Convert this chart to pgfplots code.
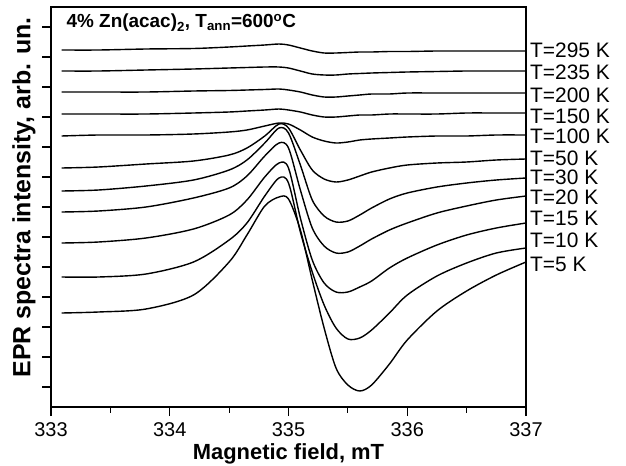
\documentclass[border=0pt]{standalone}
\usepackage{pgfplots}
\pgfplotsset{compat=1.18}
\usepackage{pgfplotstable}
\usepackage{fontspec}
\setmainfont{Liberation Sans}

\pgfplotstableread{
x t5 t10 t15 t20 t30 t50 t100 t150 t200 t235 t295
333.09 94 130 164 195 216 239 271 293 315 336 357
333.40 95 130 165 196 217 240 272 293 315 336 357
333.80 98 133 169 200 221 243 272 293 315 337 358
334.20 112 145 178 209 227 246 273 294 316 338 358.5
334.50 145 167 192 219 237 252 275 295 316.5 339 360
334.65 172 184 207 231 247 259 277 296 317 339.5 361
334.80 201 211 230 251 264 271 281 297 317.5 340 362
334.92 210 229 244 264 279 283 284 298 318 340 363
335.00 208 224 239 259 274 279 283 297 317 339 362
335.10 177 175 189 217 242 257 277 295 315 336 359
335.20 127 135 147 179 207 237 270 292 312 333 356
335.30 79 102 124 161 191 228 266 290 310 332 354
335.40 39 79 115 154 185 225 264 290 310 332 354
335.50 22 68 115 155 186 227 265 291 311 333 354.5
335.60 16 69 120 161 192 231 267 292 312 333.5 355
335.70 22 77 126 168 199 235 268 292 313 334 355
335.85 43 94 139 177 208 239 269 293 313 334.5 355.5
336.00 67 112 149 184 214 242 270 293 314 335 355.5
336.25 96 131 162 194 220 244 271 293 314 335.5 356
336.50 116 144 172 201 224 245 271 294 314 336 356
336.75 132 154 179 207 227 247 272 294 314 336 356
337.00 145 159 184 211 229 248 272 294 314 336 356
}\epr

\begin{document}
\begin{tikzpicture}[curve/.style={black, solid, line width=1.4bp, smooth, mark=none}]
\begin{axis}[
  name=ax,
  scale only axis, width=475bp, height=400bp,
  xmin=333, xmax=337, ymin=0, ymax=400,
  xtick={333,334,335,336,337},
  minor xtick={333.5,334.5,335.5,336.5},
  ytick={20,50,...,380},
  yticklabels={},
  tick pos=left,
  tick align=outside,
  major tick length=9bp, minor tick length=5.5bp,
  axis line style={line width=1.3bp},
  every tick/.style={black, line width=1.2bp},
  tick label style={font=\fontsize{20}{24}\selectfont},
  xticklabel style={yshift=-3.5bp},
  /pgf/number format/assume math mode=true,
  /pgf/number format/1000 sep={},
  xlabel={Magnetic field, mT},
  ylabel={EPR spectra intensity, arb. un.},
  every axis x label/.style={at={(axis description cs:0.5,-0.116)}, anchor=center, font=\bfseries\fontsize{22}{26}\selectfont},
  every axis y label/.style={at={(axis description cs:-0.057,0.524)}, rotate=90, anchor=center, font=\bfseries\fontsize{25}{29}\selectfont},
  clip=false,
]
\addplot[curve] table[y=t5]{\epr};
\addplot[curve] table[y=t10]{\epr};
\addplot[curve] table[y=t15]{\epr};
\addplot[curve] table[y=t20]{\epr};
\addplot[curve] table[y=t30]{\epr};
\addplot[curve] table[y=t50]{\epr};
\addplot[curve] table[y=t100]{\epr};
\addplot[curve] table[y=t150]{\epr};
\addplot[curve] table[y=t200]{\epr};
\addplot[curve] table[y=t235]{\epr};
\addplot[curve] table[y=t295]{\epr};
\begin{scope}[every node/.style={anchor=west, inner sep=0pt, xshift=4bp, font=\fontsize{21}{24}\selectfont}]
\node at (axis cs:337,357) {T=295 K};
\node at (axis cs:337,335) {T=235 K};
\node at (axis cs:337,312) {T=200 K};
\node at (axis cs:337,291) {T=150 K};
\node at (axis cs:337,271) {T=100 K};
\node at (axis cs:337,249) {T=50 K};
\node at (axis cs:337,230) {T=30 K};
\node at (axis cs:337,210) {T=20 K};
\node at (axis cs:337,189) {T=15 K};
\node at (axis cs:337,167) {T=10 K};
\node at (axis cs:337,143) {T=5 K};
\end{scope}
\node[anchor=west, inner sep=0pt, font=\bfseries\fontsize{19}{22}\selectfont] at (axis cs:333.13,384) {4\% Zn(acac)\textsubscript{2}, T\textsubscript{ann}=600\textsuperscript{o}C};
\end{axis}
\pgfresetboundingbox
\path (ax.south west) ++(-51bp,-59bp) rectangle ++(626bp,466bp);
\end{tikzpicture}
\end{document}
